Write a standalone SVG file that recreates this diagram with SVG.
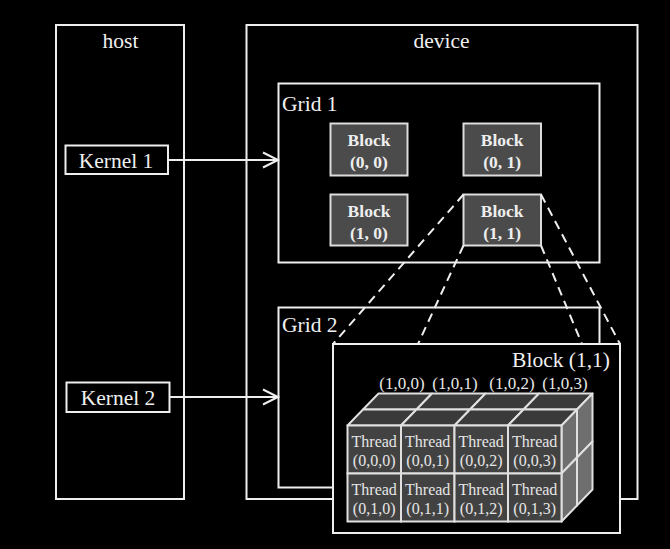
<svg xmlns="http://www.w3.org/2000/svg" width="670" height="549" viewBox="0 0 670 549">
<defs>
<style>
.box{fill:none;stroke:#eeeeee;stroke-width:2}
.bk{fill:#000;stroke:#eeeeee;stroke-width:2}
.lbl{font-family:"Liberation Serif","Times New Roman",serif;font-size:21.5px;fill:#f0f0f0}
.blk{fill:#4b4b4b;stroke:#dcdcdc;stroke-width:2}
.bt{font-family:"Liberation Serif","Times New Roman",serif;font-size:17.5px;font-weight:bold;fill:#eeeeee;text-anchor:middle}
.conn{fill:none;stroke:#eeeeee;stroke-width:2}
.dash{fill:none;stroke:#eeeeee;stroke-width:2;stroke-dasharray:9 6}
.front{fill:#424242;stroke:#e0e0e0;stroke-width:2}
.top{fill:#3a3a3a;stroke:#e0e0e0;stroke-width:2;stroke-linejoin:round}
.side{fill:#6e6e6e;stroke:#e0e0e0;stroke-width:2;stroke-linejoin:round}
.tt{font-family:"Liberation Serif","Times New Roman",serif;font-size:16px;fill:#e6e6e6;text-anchor:middle}
.zl{font-family:"Liberation Serif","Times New Roman",serif;font-size:17px;fill:#e6e6e6;text-anchor:middle}
</style>
<marker id="arr" viewBox="0 0 16 16" refX="15" refY="8" markerWidth="16" markerHeight="16" markerUnits="userSpaceOnUse" orient="auto" overflow="visible">
<path d="M0,0.5 L15,8 L0,15.5" fill="none" stroke="#eeeeee" stroke-width="2"/>
</marker>
</defs>
<rect width="670" height="549" fill="#000"/>

<g id="host">
<rect class="box" x="56" y="25" width="128" height="474"/>
<text class="lbl" x="120.5" y="48" text-anchor="middle">host</text>
</g>

<g id="device">
<rect class="box" x="246.5" y="25" width="391" height="474"/>
<text class="lbl" x="441.5" y="48" text-anchor="middle">device</text>
</g>

<g id="kernel1">
<rect class="box" x="65.5" y="145.5" width="102.5" height="28.5"/>
<text class="lbl" x="116" y="167.5" text-anchor="middle">Kernel 1</text>
</g>

<g id="kernel2">
<rect class="box" x="66.5" y="382.5" width="103" height="29.5"/>
<text class="lbl" x="118" y="404.5" text-anchor="middle">Kernel 2</text>
</g>

<g id="grid1">
<rect class="box" x="278.5" y="83.5" width="321" height="179"/>
<text class="lbl" x="282" y="111">Grid 1</text>
</g>

<g id="block00">
<rect class="blk" x="330.5" y="123.5" width="77" height="52"/>
<text class="bt" x="369" y="145.5">Block</text>
<text class="bt" x="369" y="168">(0, 0)</text>
</g>
<g id="block01">
<rect class="blk" x="463.5" y="123.5" width="77.5" height="52"/>
<text class="bt" x="502.2" y="145.5">Block</text>
<text class="bt" x="502.2" y="168">(0, 1)</text>
</g>
<g id="block10">
<rect class="blk" x="330.5" y="194.5" width="77" height="51"/>
<text class="bt" x="369" y="216.5">Block</text>
<text class="bt" x="369" y="239">(1, 0)</text>
</g>
<g id="block11">
<rect class="blk" x="463.5" y="194.5" width="77.5" height="51"/>
<text class="bt" x="502.2" y="216.5">Block</text>
<text class="bt" x="502.2" y="239">(1, 1)</text>
</g>

<g id="grid2">
<rect class="box" x="278.5" y="307.5" width="321" height="180"/>
<text class="lbl" x="282" y="331.5">Grid 2</text>
</g>

<g id="connectors">
<line class="conn" x1="168" y1="160" x2="278" y2="160" marker-end="url(#arr)"/>
<line class="conn" x1="169.5" y1="397" x2="278" y2="397" marker-end="url(#arr)"/>
<line class="dash" x1="463.5" y1="194.5" x2="333" y2="344"/>
<line class="dash" x1="463.5" y1="245.5" x2="418" y2="344"/>
<line class="dash" x1="541" y1="245.5" x2="582" y2="344"/>
<line class="dash" x1="541" y1="194.5" x2="620" y2="344"/>
</g>

<g id="block11-detail">
<rect class="bk" x="333" y="344" width="287" height="189"/>
<text class="lbl" x="610" y="367" text-anchor="end">Block (1,1)</text>
<text class="zl" x="402" y="389">(1,0,0)</text>
<text class="zl" x="455" y="389">(1,0,1)</text>
<text class="zl" x="512" y="389">(1,0,2)</text>
<text class="zl" x="565" y="389">(1,0,3)</text>
<g id="cube">
<polygon class="top" points="363,409.5 416.5,409.5 432,393.5 378.5,393.5"/>
<polygon class="top" points="416.5,409.5 470,409.5 485.5,393.5 432,393.5"/>
<polygon class="top" points="470,409.5 523.5,409.5 539,393.5 485.5,393.5"/>
<polygon class="top" points="523.5,409.5 577,409.5 592.5,393.5 539,393.5"/>
<polygon class="top" points="347.5,425.5 401,425.5 416.5,409.5 363,409.5"/>
<polygon class="top" points="401,425.5 454.5,425.5 470,409.5 416.5,409.5"/>
<polygon class="top" points="454.5,425.5 508,425.5 523.5,409.5 470,409.5"/>
<polygon class="top" points="508,425.5 561.5,425.5 577,409.5 523.5,409.5"/>
<polygon class="side" points="577,409.5 592.5,393.5 592.5,441.5 577,457.5"/>
<polygon class="side" points="577,457.5 592.5,441.5 592.5,489.5 577,505.5"/>
<polygon class="side" points="561.5,425.5 577,409.5 577,457.5 561.5,473.5"/>
<polygon class="side" points="561.5,473.5 577,457.5 577,505.5 561.5,521.5"/>
<rect class="front" x="347.5" y="425.5" width="53.5" height="48"/>
<rect class="front" x="401" y="425.5" width="53.5" height="48"/>
<rect class="front" x="454.5" y="425.5" width="53.5" height="48"/>
<rect class="front" x="508" y="425.5" width="53.5" height="48"/>
<rect class="front" x="347.5" y="473.5" width="53.5" height="48"/>
<rect class="front" x="401" y="473.5" width="53.5" height="48"/>
<rect class="front" x="454.5" y="473.5" width="53.5" height="48"/>
<rect class="front" x="508" y="473.5" width="53.5" height="48"/>
<text class="tt" x="374.2" y="446.5">Thread</text>
<text class="tt" x="374.2" y="466">(0,0,0)</text>
<text class="tt" x="427.7" y="446.5">Thread</text>
<text class="tt" x="427.7" y="466">(0,0,1)</text>
<text class="tt" x="481.2" y="446.5">Thread</text>
<text class="tt" x="481.2" y="466">(0,0,2)</text>
<text class="tt" x="534.7" y="446.5">Thread</text>
<text class="tt" x="534.7" y="466">(0,0,3)</text>
<text class="tt" x="374.2" y="494.5">Thread</text>
<text class="tt" x="374.2" y="513.5">(0,1,0)</text>
<text class="tt" x="427.7" y="494.5">Thread</text>
<text class="tt" x="427.7" y="513.5">(0,1,1)</text>
<text class="tt" x="481.2" y="494.5">Thread</text>
<text class="tt" x="481.2" y="513.5">(0,1,2)</text>
<text class="tt" x="534.7" y="494.5">Thread</text>
<text class="tt" x="534.7" y="513.5">(0,1,3)</text>
</g>
</g>
</svg>
